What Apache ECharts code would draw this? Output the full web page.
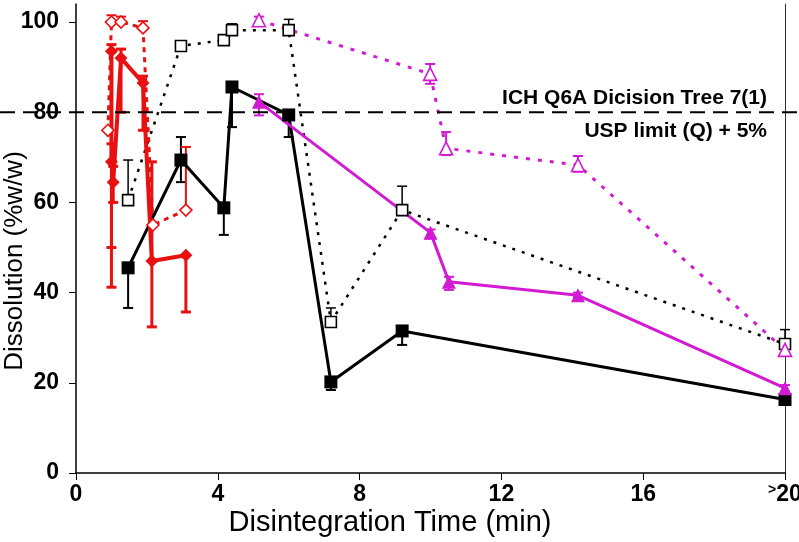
<!DOCTYPE html>
<html><head><meta charset="utf-8">
<script src="https://cdn.jsdelivr.net/npm/echarts@6/dist/echarts.min.js"></script>
<style>html,body{margin:0;padding:0;background:#fff}#c{width:799px;height:542px}</style>
</head><body><div id="c"></div>
<script>
// ---- data ----
const xTickValues = [0, 4, 8, 12, 16, 20];
const yTickValues = [0, 20, 40, 60, 80, 100];
const limitValue = 80;
const yAxisTitle = 'Dissolution (%w/w)';
const xAxisTitle = 'Disintegration Time (min)';
const limitLabelTop = 'ICH Q6A Dicision Tree 7(1)';
const limitLabelBottom = 'USP limit (Q) + 5%';

// black solid, filled squares
const blkSolidX  = [1.47, 2.96, 4.17, 4.40, 6.00, 7.19, 9.20, 20];
const blkSolidY  = [45.5, 69.4, 58.8, 85.6, 79.4, 20.2, 31.5, 16.3];
const blkSolidLo = [36.6, 64.5, 52.8, 76.7, 74.5, 18.4, 28.4, 16.3];
const blkSolidHi = [45.5, 74.5, 58.8, 85.6, 79.4, 20.2, 31.5, 16.3];

// black dotted, open squares
const blkDotX  = [1.47, 2.96, 4.17, 4.40, 6.00, 7.19, 9.20, 20];
const blkDotY  = [60.5, 94.7, 96.0, 98.2, 98.2, 33.5, 58.3, 28.6];
const blkDotLo = [60.5, 94.7, 96.0, 98.2, 98.2, 33.5, 58.3, 28.6];
const blkDotHi = [69.4, 95.5, 96.6, 99.6, 100.6, 36.6, 63.6, 31.8];

// magenta solid, filled triangles
const magSolidX  = [5.16, 10.00, 10.52, 14.16, 20];
const magSolidY  = [82.3, 53.3, 42.4, 39.4, 18.8];
const magSolidLo = [79.3, 52.0, 40.6, 39.0, 18.0];
const magSolidHi = [84.0, 54.0, 43.5, 40.0, 19.5];

// magenta dotted, open triangles
const magDotX  = [5.16, 9.99, 10.44, 14.16, 20];
const magDotY  = [100.4, 88.5, 72.0, 68.3, 27.3];
const magDotLo = [99.6, 86.3, 70.5, 66.8, 26.3];
const magDotHi = [101.2, 90.7, 75.6, 70.3, 28.3];

// red solid, filled diamonds
const redSolidX  = [1.00, 1.00, 1.05, 1.27, 1.89, 2.14, 3.10];
const redSolidY  = [93.5, 69.0, 64.5, 92.0, 86.5, 47.0, 48.3];
const redSolidLo = [41.2, 50.0, 60.0, 80.0, 76.0, 32.4, 35.7];
const redSolidHi = [95.0, 73.0, 68.0, 94.0, 88.0, 69.0, 48.3];

// red dotted, open diamonds
const redDotX  = [0.90, 1.00, 1.27, 1.89, 2.17, 3.10];
const redDotY  = [76.0, 100.0, 100.0, 98.7, 55.0, 58.3];
const redDotLo = [76.0, 100.0, 100.0, 98.7, 55.0, 58.3];
const redDotHi = [76.0, 101.5, 101.2, 100.2, 55.0, 72.3];

// ---- build ----
const RED = '#e81010', MAG = '#d21ad2', BLK = '#000';
const FONT = '"Liberation Sans", Arial, sans-serif';
const zip = (xs, ys) => xs.map((x, i) => [x, ys[i]]);
const errData = (xs, ys, lo, hi) => xs.map((x, i) => [x, ys[i], lo[i], hi[i]]);

function errSeries(data, color, w, cap) {
  return {
    type: 'custom', z: 1, silent: true, data: data,
    renderItem: function (params, api) {
      const x = api.value(0), y = api.value(1), lo = api.value(2), hi = api.value(3);
      if (lo === hi) return;
      const pLo = api.coord([x, lo]), pHi = api.coord([x, hi]);
      const children = [{ type: 'line', shape: { x1: pLo[0], y1: pLo[1], x2: pHi[0], y2: pHi[1] }, style: { stroke: color, lineWidth: w } }];
      if (lo !== y) children.push({ type: 'line', shape: { x1: pLo[0] - cap, y1: pLo[1], x2: pLo[0] + cap, y2: pLo[1] }, style: { stroke: color, lineWidth: w } });
      if (hi !== y) children.push({ type: 'line', shape: { x1: pHi[0] - cap, y1: pHi[1], x2: pHi[0] + cap, y2: pHi[1] }, style: { stroke: color, lineWidth: w } });
      return { type: 'group', children: children };
    }
  };
}

function lineSeries(data, color, w, dash, symbol, size, open) {
  return {
    type: 'line', z: 2, data: data, symbol: symbol, symbolSize: size, clip: false,
    lineStyle: { color: color, width: w, type: dash },
    itemStyle: open ? { color: '#fff', borderColor: color, borderWidth: 1.6 } : { color: color, borderWidth: 0 },
    emphasis: { disabled: true }, animation: false
  };
}

const chart = echarts.init(document.getElementById('c'), null, { renderer: 'canvas' });
const tickFont = { fontFamily: '"Liberation Sans Narrow", "Liberation Sans", Arial, sans-serif', fontWeight: 'bold', fontSize: 23, color: '#000' };
const option = {
  animation: false,
  backgroundColor: '#fff',
  grid: { left: 76, right: 14, top: 4, bottom: 69, containLabel: false, outerBoundsMode: 'none' },
  xAxis: {
    type: 'value', min: 0, max: 20, interval: 4,
    axisLine: { lineStyle: { color: '#000', width: 1.5 } },
    axisTick: { show: true, length: 7, lineStyle: { color: '#000', width: 1 } },
    splitLine: { show: false },
    axisLabel: Object.assign({}, tickFont, {
      margin: 10,
      formatter: v => v === 20 ? '{g|>}20' : String(v),
      rich: { g: { fontFamily: FONT, fontSize: 14, fontWeight: 'bold', color: '#000', padding: [0, 0, 10, 0] } }
    })
  },
  yAxis: [{
    type: 'value', min: 0, max: 104,
    axisLine: { show: true, lineStyle: { color: '#000', width: 1.5 } },
    axisTick: { show: true, length: 7, customValues: yTickValues, lineStyle: { color: '#000', width: 1 } },
    axisLabel: Object.assign({}, tickFont, { margin: 17, customValues: yTickValues }),
    splitLine: { show: false }
  }, {
    type: 'value', min: 0, max: 104, position: 'right',
    axisLine: { show: true, lineStyle: { color: '#333', width: 1 } },
    axisTick: { show: false }, axisLabel: { show: false }, splitLine: { show: false }
  }],
  series: [
    errSeries(errData(blkSolidX, blkSolidY, blkSolidLo, blkSolidHi), BLK, 2, 5),
    errSeries(errData(blkDotX, blkDotY, blkDotLo, blkDotHi), BLK, 1.5, 5),
    errSeries(errData(magSolidX, magSolidY, magSolidLo, magSolidHi), MAG, 2, 5),
    errSeries(errData(magDotX, magDotY, magDotLo, magDotHi), MAG, 2, 5),
    errSeries(errData(redSolidX, redSolidY, redSolidLo, redSolidHi), RED, 3, 5),
    errSeries(errData(redDotX, redDotY, redDotLo, redDotHi), RED, 2, 5),
    lineSeries(zip(blkDotX, blkDotY), BLK, 2.5, [3, 7], 'rect', 11, true),
    lineSeries(zip(magDotX, magDotY), MAG, 3, [4, 8], 'triangle', 13, true),
    lineSeries(zip(redDotX, redDotY), RED, 3, [5, 5], 'diamond', 12, true),
    lineSeries(zip(blkSolidX, blkSolidY), BLK, 3, 'solid', 'rect', 13, false),
    lineSeries(zip(magSolidX, magSolidY), MAG, 3, 'solid', 'triangle', 14, false),
    lineSeries(zip(redSolidX, redSolidY), RED, 4, 'solid', 'diamond', 13, false)
  ]
};
chart.setOption(option);

const yLim = chart.convertToPixel({ yAxisIndex: 0 }, limitValue);
chart.setOption({
  graphic: [
    { type: 'line', z: 5, shape: { x1: 0, y1: yLim, x2: 799, y2: yLim }, style: { stroke: '#000', lineWidth: 2, lineDash: [15, 8] } },
    { type: 'text', z: 5, right: 32, top: yLim - 25, style: { text: limitLabelTop, font: 'bold 21px ' + FONT, fill: '#000' } },
    { type: 'text', z: 5, right: 32, top: yLim + 8, style: { text: limitLabelBottom, font: 'bold 21px ' + FONT, fill: '#000' } },
    { type: 'text', z: 5, x: 15, y: 261, rotation: Math.PI / 2, style: { text: yAxisTitle, font: '26px ' + FONT, fill: '#000', align: 'center', verticalAlign: 'middle' } },
    { type: 'text', z: 5, x: 390, y: 523, style: { text: xAxisTitle, font: '29px ' + FONT, fill: '#000', align: 'center', verticalAlign: 'middle' } }
  ]
});
</script></body></html>
